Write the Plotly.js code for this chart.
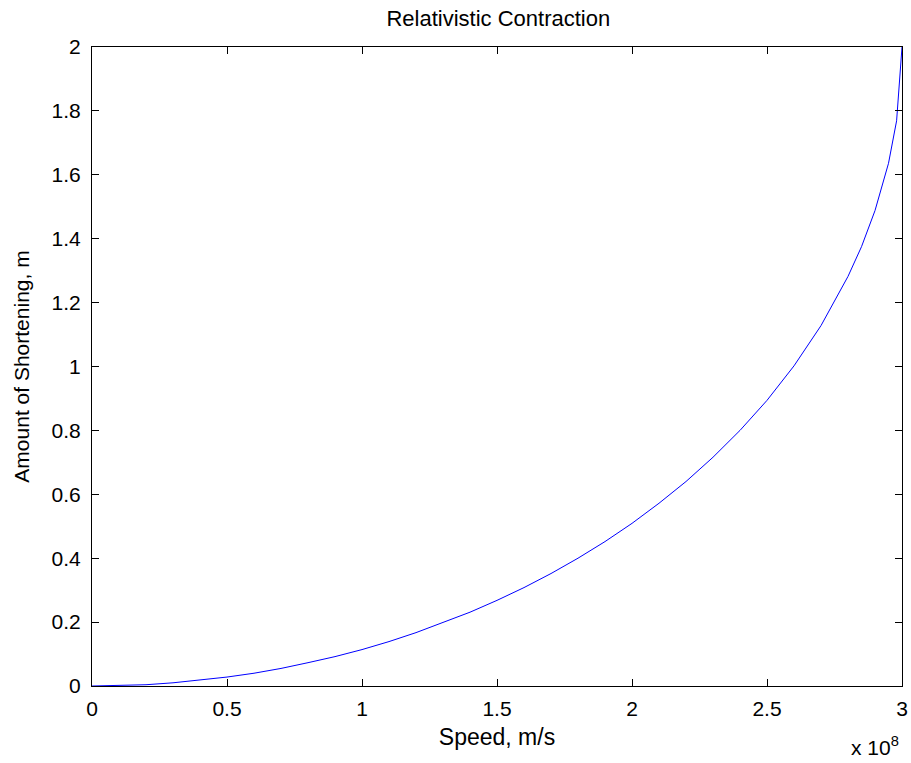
<!DOCTYPE html>
<html><head><meta charset="utf-8">
<script src="https://cdn.plot.ly/plotly-3.0.1.min.js"></script>
<style>html,body{margin:0;padding:0;background:#fff;}#chart{width:911px;height:763px;}</style>
</head><body><div id="chart"></div>
<script>
// Speed in m/s
const speed = [0, 0.1e8, 0.2e8, 0.3e8, 0.4e8, 0.5e8, 0.6e8, 0.7e8, 0.8e8, 0.9e8, 1.0e8,
  1.1e8, 1.2e8, 1.3e8, 1.4e8, 1.5e8, 1.6e8, 1.7e8, 1.8e8, 1.9e8, 2.0e8,
  2.1e8, 2.2e8, 2.3e8, 2.4e8, 2.5e8, 2.6e8, 2.7e8, 2.8e8, 2.85e8, 2.9e8, 2.95e8, 2.98e8, 3.0e8];
// Amount of shortening in m
const shortening = [0, 0.001, 0.004, 0.010, 0.018, 0.028, 0.040, 0.055, 0.073, 0.092, 0.114,
  0.139, 0.167, 0.198, 0.231, 0.268, 0.308, 0.352, 0.400, 0.452, 0.509,
  0.572, 0.640, 0.716, 0.800, 0.894, 1.002, 1.128, 1.282, 1.375, 1.488, 1.636, 1.769, 2.0];
const xTickVals = [0, 0.5e8, 1e8, 1.5e8, 2e8, 2.5e8, 3e8];
const xTickText = ['0', '0.5', '1', '1.5', '2', '2.5', '3'];
const yTickVals = [0, 0.2, 0.4, 0.6, 0.8, 1, 1.2, 1.4, 1.6, 1.8, 2];
const yTickText = ['0', '0.2', '0.4', '0.6', '0.8', '1', '1.2', '1.4', '1.6', '1.8', '2'];

const fam = 'Liberation Sans, Arial, sans-serif';
const titleFont = {family: fam, size: 22, color: '#000'};
const xLabFont = {family: fam, size: 23, color: '#000'};
const yLabFont = {family: fam, size: 21, color: '#000'};
const tickFont = {family: fam, size: 21, color: '#000'};
const trace = {x: speed, y: shortening, type: 'scatter', mode: 'lines',
  line: {color: '#0000ff', width: 1}, hoverinfo: 'none'};
const axisCommon = {showgrid: false, zeroline: false, showline: true, linecolor: '#000', linewidth: 1,
  mirror: 'ticks', ticks: 'inside', ticklen: 7, tickcolor: '#000', tickwidth: 1, tickfont: tickFont};
const layout = {
  width: 911, height: 763,
  margin: {l: 92, r: 9, t: 47, b: 77},
  paper_bgcolor: '#fff', plot_bgcolor: '#fff',
  font: tickFont, showlegend: false,
  title: {text: 'Relativistic Contraction', font: titleFont, x: 0.547, xanchor: 'center', y: 0.976, yanchor: 'middle'},
  xaxis: Object.assign({}, axisCommon, {range: [0, 3e8], tickmode: 'array', tickvals: xTickVals, ticktext: xTickText,
    ticklabelstandoff: 4,
    title: {text: 'Speed, m/s', font: xLabFont, standoff: 9}}),
  yaxis: Object.assign({}, axisCommon, {range: [0, 2], tickmode: 'array', tickvals: yTickVals, ticktext: yTickText,
    ticklabelstandoff: 6,
    title: {text: 'Amount of Shortening, m', font: yLabFont, standoff: 16}}),
  annotations: [{xref: 'paper', yref: 'paper', x: 1.0, y: 0, xshift: -1, yshift: -60, xanchor: 'right', yanchor: 'middle', showarrow: false,
    text: 'x 10<sup>8</sup>', font: {family: fam, size: 21, color: '#000'}}]
};
Plotly.newPlot('chart', [trace], layout, {staticPlot: true, displayModeBar: false});
</script></body></html>
